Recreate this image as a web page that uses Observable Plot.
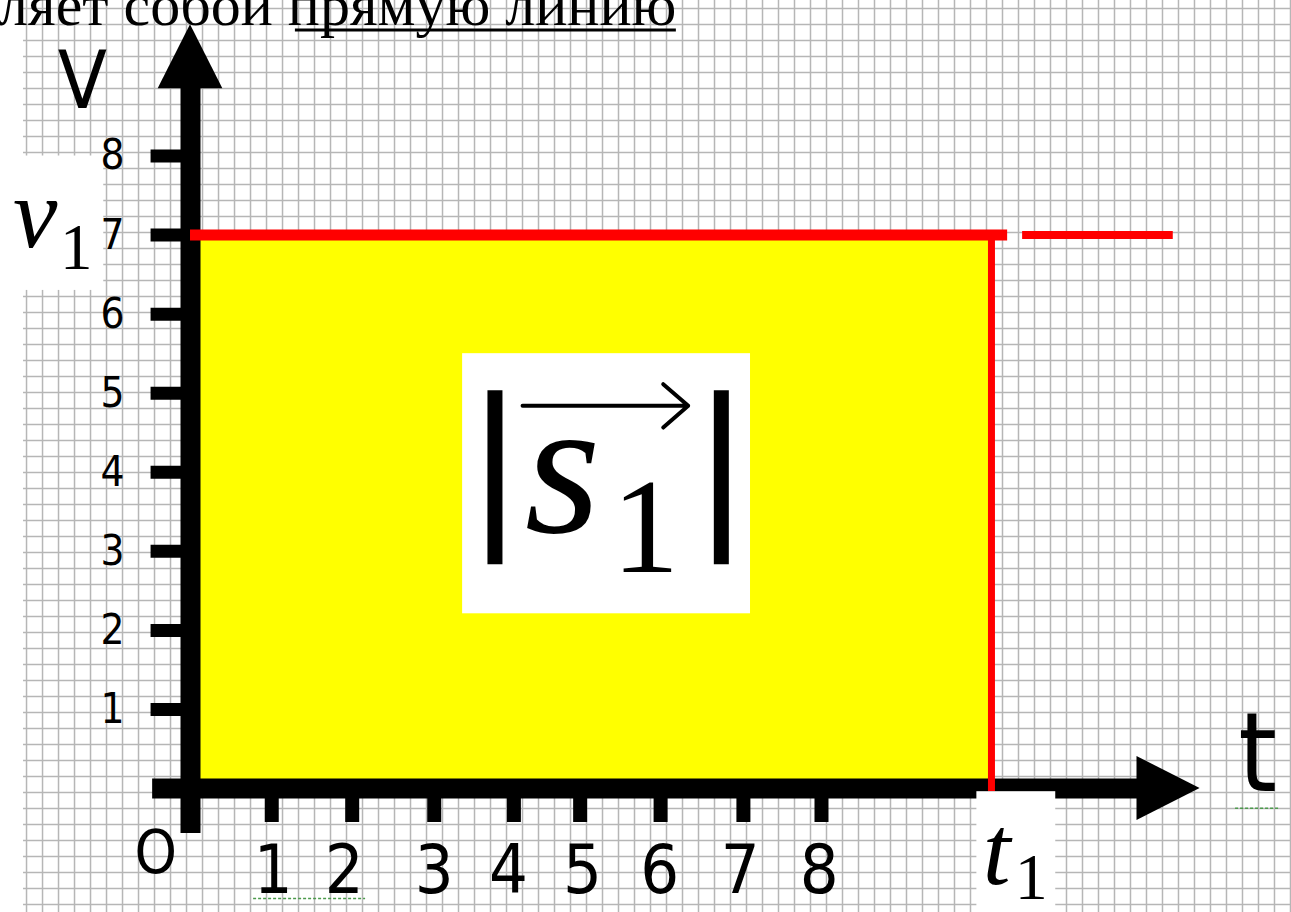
<!DOCTYPE html>
<html><head><meta charset="utf-8">
<script src="https://cdn.jsdelivr.net/npm/d3@7"></script>
<script src="https://cdn.jsdelivr.net/npm/@observablehq/plot@0.6"></script>
<style>html,body{margin:0;padding:0;background:#fff;overflow:hidden}</style>
</head><body><div id="chart"></div>
<script>
// ---- data ----
const heading = "вляет собой прямую линию";
const vTicks = [1, 2, 3, 4, 5, 6, 7, 8];
const tTickLabels = ["1", "2", "3", "4", "5", "6", "7", "8"];
const tTickPos = [1.03, 2.05, 3.09, 4.10, 4.94, 5.96, 7.01, 8.00];   // hand-drawn tick positions
const tLabelPos = [1.05, 1.95, 3.09, 4.03, 4.97, 5.95, 6.97, 7.97];  // hand-placed labels
const v1 = 7;
const t1 = 10.155;

// ---- layout (data units) ----
const SANS = "'Liberation Sans Narrow','DejaVu Sans Condensed','Liberation Sans',sans-serif";
const SERIF = "'Liberation Serif','DejaVu Serif',serif";
const gridT = d3.range(-2.079, 13.96, 0.20285);
const gridV = d3.range(9.866, -1.6, -0.20238);
const one = [0];

const chart = Plot.plot({
  width: 1291, height: 912, margin: 0,
  x: {domain: [-2.409, 13.959], axis: null},
  y: {domain: [-1.568, 9.967], axis: null},
  style: {background: "#fff", overflow: "visible"},
  marks: [
    // graph paper
    Plot.ruleX(gridT, {x: d => d, y1: -1.568, y2: 9.967, stroke: "#b6b6b6", strokeWidth: 1.5}),
    Plot.ruleY(gridV, {y: d => d, x1: -2.117, x2: 13.959, stroke: "#b6b6b6", strokeWidth: 1.5}),
    // heading
    Plot.text([heading], {x: 6.16, y: 9.90, text: d => d, textAnchor: "end", fontFamily: SERIF, fontSize: 60, fill: "#000"}),
    Plot.ruleY([9.594], {y: d => d, x1: 1.33, x2: 6.16, stroke: "#000", strokeWidth: 3}),
    // area under v(t)
    Plot.rect(one, {x1: 0, x2: t1, y1: 0, y2: v1, fill: "#ffff00"}),
    // axes
    Plot.ruleX(one, {x: 0, y1: -0.57, y2: 8.86, stroke: "#000", strokeWidth: 20}),
    Plot.areaY([{x: -0.41, y: 8.85}, {x: 0, y: 9.66}, {x: 0.41, y: 8.85}], {x: "x", y1: () => 8.85, y2: "y", fill: "#000"}),
    Plot.ruleY(one, {y: 0, x1: -0.48, x2: 12.01, stroke: "#000", strokeWidth: 20}),
    Plot.areaX([{y: -0.405, x: 12.0}, {y: 0, x: 12.8}, {y: 0.405, x: 12.0}], {y: "y", x1: () => 12.0, x2: "x", fill: "#000"}),
    Plot.ruleY(vTicks, {y: d => d, x1: -0.5, x2: 0, stroke: "#000", strokeWidth: 13}),
    Plot.ruleX(tTickPos, {x: d => d, y1: -0.43, y2: 0, stroke: "#000", strokeWidth: 14}),
    // red v = v1 line and t = t1 line
    Plot.ruleY([v1], {y: d => d, x1: 0, x2: 10.36, stroke: "#ff0000", strokeWidth: 11}),
    Plot.ruleY([v1], {y: d => d, x1: 10.55, x2: 12.46, stroke: "#ff0000", strokeWidth: 8}),
    Plot.ruleX([t1], {x: d => d, y1: -0.04, y2: v1, stroke: "#ff0000", strokeWidth: 7}),
    // |s1| formula in white box
    Plot.rect(one, {x1: 3.45, x2: 7.10, y1: 2.21, y2: 5.50, fill: "#fff"}),
    Plot.ruleX([3.86, 6.73], {x: d => d, y1: 2.83, y2: 5.03, stroke: "#000", strokeWidth: 15}),
    Plot.text(["s"], {x: 4.72, y: 4.03, text: d => d, fontFamily: SERIF, fontStyle: "italic", fontSize: 195, fill: "#000"}),
    Plot.text(["1"], {x: 5.77, y: 3.28, text: d => d, fontFamily: SERIF, fontSize: 135, fill: "#000"}),
    Plot.arrow(one, {x1: 4.21, x2: 6.31, y1: 4.84, y2: 4.84, stroke: "#000", strokeWidth: 4, headLength: 12.4, headAngle: 82}),
    // v1 label box
    Plot.rect(one, {x1: -2.42, x2: -1.10, y1: 6.30, y2: 8.0, fill: "#fff"}),
    Plot.text(["v"], {x: -1.97, y: 7.25, text: d => d, fontFamily: SERIF, fontStyle: "italic", fontSize: 100, fill: "#000"}),
    Plot.text(["1"], {x: -1.45, y: 6.84, text: d => d, fontFamily: SERIF, fontSize: 65, fill: "#000"}),
    // t1 label box
    Plot.rect(one, {x1: 9.97, x2: 10.97, y1: -1.6, y2: -0.04, fill: "#fff"}),
    Plot.text(["t"], {x: 10.22, y: -0.80, text: d => d, fontFamily: SERIF, fontStyle: "italic", fontSize: 100, fill: "#000"}),
    Plot.text(["1"], {x: 10.66, y: -1.13, text: d => d, fontFamily: SERIF, fontSize: 66, fill: "#000"}),
    // tick labels
    Plot.text(vTicks, {x: -0.99, y: d => d, text: d => String(d), fontFamily: SANS, fontSize: 42, fill: "#000"}),
    Plot.text(tTickLabels, {x: (d, i) => tLabelPos[i], y: -1.04, text: d => d, fontFamily: SANS, fontSize: 68, fill: "#000"}),
    // axis names and origin
    Plot.text(["V"], {x: -1.37, y: 8.93, text: d => d, fontFamily: SANS, fontSize: 80, fill: "#000"}),
    Plot.text(["t"], {x: 13.53, y: 0.42, text: d => d, fontFamily: SANS, fontSize: 110, fill: "#000"}),
    Plot.text(["O"], {x: -0.44, y: -0.83, text: d => d, fontFamily: SANS, fontSize: 60, fill: "#000"}),
    // spell-check squiggles
    Plot.ruleY([-0.25], {y: d => d, x1: 13.25, x2: 13.82, stroke: "#4c9a4c", strokeWidth: 1.5, strokeDasharray: "3 2"}),
    Plot.ruleY([-1.39], {y: d => d, x1: 0.80, x2: 2.22, stroke: "#4c9a4c", strokeWidth: 1.5, strokeDasharray: "3 2"})
  ]
});
document.getElementById("chart").appendChild(chart);
</script></body></html>
